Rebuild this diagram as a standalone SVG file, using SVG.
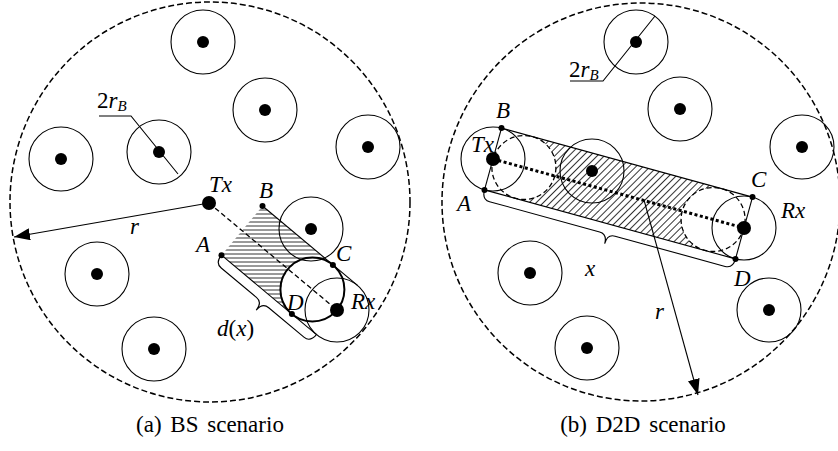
<svg xmlns="http://www.w3.org/2000/svg" width="838" height="451" viewBox="0 0 838 451">
<defs>
<style>
.bound{fill:none;stroke:#000;stroke-width:1.5;stroke-dasharray:6,3}
.obs{fill:none;stroke:#000;stroke-width:1.1}
.dot{fill:#000}
.ln{fill:none;stroke:#000;stroke-width:1.1}
.thick{fill:none;stroke:#000;stroke-width:2}
.dash{fill:none;stroke:#000;stroke-width:1.3;stroke-dasharray:5,3}
.dotted{fill:none;stroke:#000;stroke-width:3;stroke-dasharray:3,2.5}
.lbl{font-family:"Liberation Serif","Times New Roman",serif;font-style:italic;font-size:23px;fill:#000}
.sub{font-size:15px}
.up{font-style:normal}
.cap{font-family:"Liberation Serif","Times New Roman",serif;font-size:23px;word-spacing:3px;fill:#000}
</style>
<pattern id="hH" patternUnits="userSpaceOnUse" width="8" height="4"><line x1="0" y1="2" x2="8" y2="2" stroke="#000" stroke-width="0.8"/></pattern>
<pattern id="hD" patternUnits="userSpaceOnUse" width="5" height="8" patternTransform="rotate(45)"><line x1="2.5" y1="0" x2="2.5" y2="8" stroke="#000" stroke-width="0.8"/></pattern>
<marker id="arr" markerUnits="userSpaceOnUse" viewBox="0 0 16 12" markerWidth="16" markerHeight="12" refX="16" refY="6" orient="auto"><path d="M0,0 L16,6 L0,12 z" fill="#000"/></marker>
</defs>

<!-- ===== (a) BS scenario ===== -->
<g id="a-boundary"><circle class="bound" cx="210" cy="202" r="200"/></g>
<g id="a-region"><path d="M221.5,255.2 L262.5,206 L332.9,265 A32,32 0 0 0 291.9,314.1 Z" fill="url(#hH)"/></g>
<g id="a-obs1"><circle class="obs" cx="203" cy="42" r="32"/><circle class="dot" cx="203" cy="42" r="6"/></g>
<g id="a-obs2"><circle class="obs" cx="159" cy="152" r="32"/><circle class="dot" cx="159" cy="152" r="6"/></g>
<g id="a-obs3"><circle class="obs" cx="61" cy="159" r="32"/><circle class="dot" cx="61" cy="159" r="6"/></g>
<g id="a-obs4"><circle class="obs" cx="265" cy="110" r="32"/><circle class="dot" cx="265" cy="110" r="6"/></g>
<g id="a-obs5"><circle class="obs" cx="368" cy="147" r="32"/><circle class="dot" cx="368" cy="147" r="6"/></g>
<g id="a-obs6"><circle class="obs" cx="97" cy="274" r="32"/><circle class="dot" cx="97" cy="274" r="6"/></g>
<g id="a-obs7"><circle class="obs" cx="154" cy="349" r="32"/><circle class="dot" cx="154" cy="349" r="6"/></g>
<g id="a-obs8"><circle class="obs" cx="311" cy="229" r="32"/><circle class="dot" cx="311" cy="229" r="6"/></g>
<g id="a-excl"><circle class="thick" cx="312.4" cy="289.5" r="32"/></g>
<g id="a-connectors">
<path class="ln" d="M262.5,206 L357.5,285.4"/>
<path class="ln" d="M221.5,255.2 L316.5,334.6"/>
<path class="dash" d="M209,203 L337,310"/>
<path class="ln" d="M209,203 L14,237" marker-end="url(#arr)"/>
<path class="ln" d="M99,116 L131,116 L178,174"/>
<path class="ln" transform="translate(221.5,255.2) rotate(39.9)" d="M0,0 Q0,10 8,10 L53.9,10 Q61.9,10 61.9,20 Q61.9,10 69.9,10 L115.8,10 Q123.8,10 123.8,0"/>
</g>
<g id="a-Tx"><circle class="dot" cx="209" cy="203" r="7"/><text class="lbl" x="209" y="192">Tx</text></g>
<g id="a-Rx"><circle class="obs" cx="337" cy="310" r="32"/><circle class="dot" cx="337" cy="310" r="7"/><text class="lbl" x="351" y="309">Rx</text></g>
<g id="a-A"><circle class="dot" cx="221.5" cy="255.2" r="3"/><text class="lbl" x="196" y="252">A</text></g>
<g id="a-B"><circle class="dot" cx="262.5" cy="206" r="3"/><text class="lbl" x="259" y="198">B</text></g>
<g id="a-C"><circle class="dot" cx="332.9" cy="265" r="3"/><text class="lbl" x="336" y="261">C</text></g>
<g id="a-D"><circle class="dot" cx="291.9" cy="314.1" r="3"/><text class="lbl" x="287" y="310">D</text></g>
<g id="a-labels">
<text class="lbl" x="217" y="336">d<tspan class="up">(</tspan>x<tspan class="up">)</tspan></text>
<text class="lbl" x="130" y="234">r</text>
<text class="lbl" x="97" y="108"><tspan class="up">2</tspan>r<tspan class="sub" dy="3">B</tspan></text>
<text class="cap" x="210" y="432" text-anchor="middle">(a) BS scenario</text>
</g>

<!-- ===== (b) D2D scenario ===== -->
<g id="b-boundary"><circle class="bound" cx="641" cy="202" r="199"/></g>
<g id="b-region"><path d="M532.4,136.6 L721.6,188.6 A32,32 0 0 0 704.6,250.4 L515.4,198.4 A32,32 0 0 0 532.4,136.6 Z" fill="url(#hD)"/></g>
<g id="b-obs1"><circle class="obs" cx="636" cy="42" r="32"/><circle class="dot" cx="636" cy="42" r="6"/></g>
<g id="b-obs2"><circle class="obs" cx="680" cy="109" r="32"/><circle class="dot" cx="680" cy="109" r="6"/></g>
<g id="b-obs3"><circle class="obs" cx="802" cy="147" r="32"/><circle class="dot" cx="802" cy="147" r="6"/></g>
<g id="b-obs4"><circle class="obs" cx="592" cy="171" r="32"/><circle class="dot" cx="592" cy="171" r="6"/></g>
<g id="b-obs5"><circle class="obs" cx="530" cy="273" r="32"/><circle class="dot" cx="530" cy="273" r="6"/></g>
<g id="b-obs6"><circle class="obs" cx="587" cy="348" r="32"/><circle class="dot" cx="587" cy="348" r="6"/></g>
<g id="b-obs7"><circle class="obs" cx="769" cy="310" r="32"/><circle class="dot" cx="769" cy="310" r="6"/></g>
<g id="b-excl"><circle class="dash" cx="523.9" cy="167.5" r="32"/><circle class="dash" cx="713.1" cy="219.5" r="32"/></g>
<g id="b-connectors">
<path class="ln" d="M501.5,128.1 L752.5,197.1"/>
<path class="ln" d="M484.5,189.9 L735.5,258.9"/>
<path class="ln" d="M501.5,128.1 L484.5,189.9"/>
<path class="ln" d="M752.5,197.1 L735.5,258.9"/>
<path class="dotted" d="M493,159 L744,228"/>
<path class="ln" d="M644,200 L698,395" marker-end="url(#arr)"/>
<path class="ln" d="M570,81 L603,81 L655,16"/>
<path class="ln" transform="translate(484.5,189.9) rotate(15.37)" d="M0,0 Q0,10 8,10 L122.15,10 Q130.15,10 130.15,20 Q130.15,10 138.15,10 L252.3,10 Q260.3,10 260.3,0"/>
</g>
<g id="b-Tx"><circle class="obs" cx="493" cy="159" r="32"/><circle class="dot" cx="493" cy="159" r="7"/><text class="lbl" x="471" y="152">Tx</text></g>
<g id="b-Rx"><circle class="obs" cx="744" cy="228" r="32"/><circle class="dot" cx="744" cy="228" r="7"/><text class="lbl" x="781" y="218">Rx</text></g>
<g id="b-A"><circle class="dot" cx="484.5" cy="189.9" r="3"/><text class="lbl" x="457" y="211">A</text></g>
<g id="b-B"><circle class="dot" cx="501.5" cy="128.1" r="3"/><text class="lbl" x="496" y="118">B</text></g>
<g id="b-C"><circle class="dot" cx="752.5" cy="197.1" r="3"/><text class="lbl" x="751" y="187">C</text></g>
<g id="b-D"><circle class="dot" cx="735.5" cy="258.9" r="3"/><text class="lbl" x="734" y="286">D</text></g>
<g id="b-labels">
<text class="lbl" x="585" y="276">x</text>
<text class="lbl" x="655" y="319">r</text>
<text class="lbl" x="569" y="77"><tspan class="up">2</tspan>r<tspan class="sub" dy="3">B</tspan></text>
<text class="cap" x="643" y="432" text-anchor="middle">(b) D2D scenario</text>
</g>
</svg>
